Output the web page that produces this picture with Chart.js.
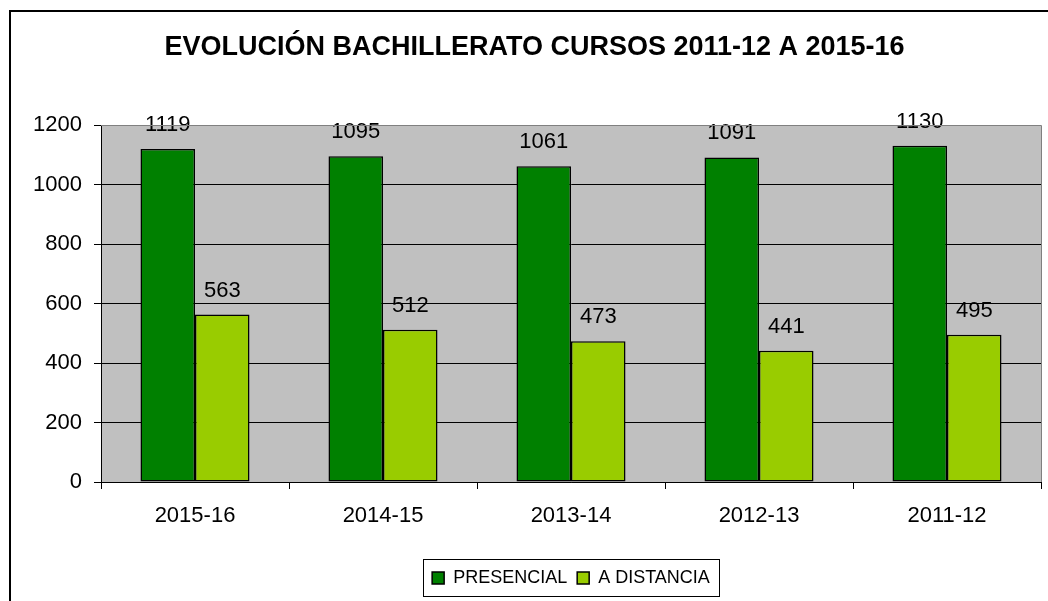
<!DOCTYPE html>
<html>
<head>
<meta charset="utf-8">
<script src="https://cdn.jsdelivr.net/npm/chart.js@4/dist/chart.umd.min.js"></script>
<style>
  html, body { margin: 0; padding: 0; background: #fff; }
  canvas { display: block; }
</style>
</head>
<body>
<canvas id="chart" width="1048" height="601"></canvas>
<script>
// Chart data
const cursos = ['2015-16', '2014-15', '2013-14', '2012-13', '2011-12'];
const presencial = [1119, 1095, 1061, 1091, 1130];
const aDistancia = [563, 512, 473, 441, 495];
const yTicks = [0, 200, 400, 600, 800, 1000, 1200];

const FONT = '"Liberation Sans", Arial, sans-serif';

// Gray plot area + outer frame
const frame = {
  id: 'frame',
  beforeDraw(chart) {
    const { ctx, chartArea: a } = chart;
    ctx.save();
    ctx.fillStyle = '#fff';
    ctx.fillRect(0, 0, chart.width, chart.height);
    ctx.lineWidth = 2;
    ctx.strokeStyle = '#000';
    ctx.strokeRect(10, 11, 2000, 2000);
    ctx.fillStyle = '#c0c0c0';
    ctx.fillRect(a.left, a.top, a.right - a.left, a.bottom - a.top);
    ctx.restore();
  },
  afterDraw(chart) {
    const { ctx, chartArea: a, legend } = chart;
    ctx.save();
    // top and right edge of plot area
    ctx.strokeStyle = '#808080';
    ctx.lineWidth = 1;
    ctx.beginPath();
    ctx.moveTo(a.left, a.top + 0.5);
    ctx.lineTo(a.right + 0.5, a.top + 0.5);
    ctx.lineTo(a.right + 0.5, a.bottom);
    ctx.stroke();
    // legend box
    const boxes = legend.legendHitBoxes;
    if (boxes.length) {
      const l = Math.min(...boxes.map(b => b.left)) - 9;
      const r = Math.max(...boxes.map(b => b.left + b.width)) + 9;
      const t = Math.min(...boxes.map(b => b.top)) - 10;
      const btm = Math.max(...boxes.map(b => b.top + b.height)) + 9;
      ctx.strokeStyle = '#000';
      ctx.strokeRect(Math.round(l) + 0.5, Math.round(t) + 0.5, Math.round(r - l), Math.round(btm - t));
    }
    ctx.restore();
  }
};

// Value labels above each bar
const valueLabels = {
  id: 'valueLabels',
  afterDatasetsDraw(chart) {
    const { ctx } = chart;
    ctx.save();
    ctx.font = '22px ' + FONT;
    ctx.fillStyle = '#000';
    ctx.textAlign = 'center';
    ctx.textBaseline = 'alphabetic';
    chart.data.datasets.forEach((ds, i) => {
      chart.getDatasetMeta(i).data.forEach((bar, j) => {
        ctx.fillText(String(ds.data[j]), bar.x, bar.y - 18);
      });
    });
    ctx.restore();
  }
};

new Chart(document.getElementById('chart'), {
  type: 'bar',
  data: {
    labels: cursos,
    datasets: [
      {
        label: 'PRESENCIAL',
        data: presencial,
        backgroundColor: '#008000',
        borderColor: '#000',
        borderWidth: 1.5,
        borderSkipped: false
      },
      {
        label: 'A DISTANCIA',
        data: aDistancia,
        backgroundColor: '#99cc00',
        borderColor: '#000',
        borderWidth: 1.5,
        borderSkipped: false
      }
    ]
  },
  options: {
    responsive: false,
    animation: false,
    devicePixelRatio: 1,
    layout: { padding: { left: 28, right: 7, top: 0, bottom: 4 } },
    datasets: {
      bar: { barPercentage: 1, categoryPercentage: 0.58 }
    },
    plugins: {
      title: {
        display: true,
        text: 'EVOLUCIÓN BACHILLERATO CURSOS 2011-12 A 2015-16',
        color: '#000',
        font: { family: FONT, size: 27, weight: 'bold' },
        padding: { top: 31, bottom: 61.6 }
      },
      legend: {
        position: 'bottom',
        fullSize: false,
        labels: {
          color: '#000',
          font: { family: FONT, size: 18 },
          boxWidth: 12,
          boxHeight: 12,
          padding: 10
        }
      },
      tooltip: { enabled: false }
    },
    scales: {
      x: {
        afterFit(scale) { scale.height = 77; },
        grid: {
          offset: true,
          drawOnChartArea: false,
          drawTicks: true,
          tickLength: 7,
          tickColor: '#000'
        },
        border: { color: '#000', width: 1 },
        ticks: {
          color: '#000',
          font: { family: FONT, size: 22 },
          padding: 14
        }
      },
      y: {
        min: 0,
        max: 1200,
        afterFit(scale) { scale.width = 73; },
        afterBuildTicks(scale) { scale.ticks = yTicks.map(v => ({ value: v })); },
        grid: {
          color: ctx => (ctx.tick && ctx.tick.value === 1200 ? '#808080' : '#000'),
          tickColor: '#000',
          tickLength: 7
        },
        border: { color: '#000', width: 1 },
        ticks: {
          color: '#000',
          font: { family: FONT, size: 22 },
          padding: 12,
          callback: v => String(v)
        }
      }
    }
  },
  plugins: [frame, valueLabels]
});
</script>
</body>
</html>
